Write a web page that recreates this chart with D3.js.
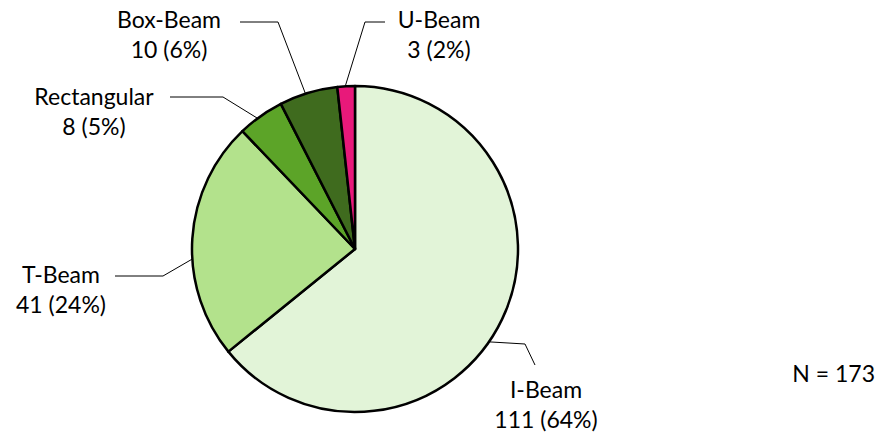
<!DOCTYPE html>
<html><head><meta charset="utf-8">
<script src="https://cdn.jsdelivr.net/npm/d3@7"></script>
<style>
html,body{margin:0;padding:0;background:#fff;}
svg{display:block;}
text{font-family:"Lato","Open Sans",sans-serif;font-size:23px;fill:#000;}
</style></head>
<body>
<svg id="chart" width="885" height="438"></svg>
<script>
// Data
const categories = ["I-Beam", "T-Beam", "Rectangular", "Box-Beam", "U-Beam"];
const counts = [111, 41, 8, 10, 3];
const percentLabels = ["64%", "24%", "5%", "6%", "2%"];
const totalLabel = "N = 173";

// Styles / layout (kept separate from the data)
const colors = ["#e2f4d8", "#b3e28c", "#5ca428", "#3f6b1e", "#e8197a"];
const layout = {
  "I-Beam":      {tx: 546, ty: 398, anchorFrac: 0.54, pts: [[525, 344], [535, 365]]},
  "T-Beam":      {tx: 61,  ty: 283, anchorFrac: 0.416, pts: [[163, 276], [115, 276]]},
  "Rectangular": {tx: 94,  ty: 105, anchorFrac: 0.42, pts: [[223, 97], [170, 97]]},
  "Box-Beam":    {tx: 169, ty: 28,  anchorFrac: 0.45, pts: [[278, 22], [240, 22]]},
  "U-Beam":      {tx: 439, ty: 28,  anchorFrac: 0.45, pts: [[365, 22], [385, 22]]}
};
const lineGap = 30;

const svg = d3.select("#chart");
const cx = 355, cy = 249, r = 163;

const data = categories.map((c, i) => ({cat: c, value: counts[i], pct: percentLabels[i], color: colors[i]}));

const pie = d3.pie().value(d => d.value).sort(null);
const arcs = pie(data);
const arc = d3.arc().innerRadius(0).outerRadius(r);

const g = svg.append("g").attr("transform", `translate(${cx},${cy})`);
g.selectAll("path.slice").data(arcs).join("path")
  .attr("class", "slice")
  .attr("d", arc)
  .attr("fill", d => d.data.color)
  .attr("stroke", "#000")
  .attr("stroke-width", 2.5)
  .attr("stroke-linejoin", "round");

// leader lines and labels
arcs.forEach(a => {
  const L = layout[a.data.cat];
  const ang = a.startAngle + (a.endAngle - a.startAngle) * L.anchorFrac;
  const ex = cx + r * Math.sin(ang), ey = cy - r * Math.cos(ang);
  const pts = [[ex, ey], ...L.pts];
  svg.append("path")
    .attr("d", d3.line()(pts))
    .attr("fill", "none")
    .attr("stroke", "#000")
    .attr("stroke-width", 1);
  const t = svg.append("text").attr("text-anchor", "middle");
  t.append("tspan").attr("x", L.tx).attr("y", L.ty).text(a.data.cat);
  t.append("tspan").attr("x", L.tx).attr("y", L.ty + lineGap).text(`${a.data.value} (${a.data.pct})`);
});

svg.append("text").attr("x", 875).attr("y", 382).attr("text-anchor", "end").text(totalLabel);
</script>
</body></html>
